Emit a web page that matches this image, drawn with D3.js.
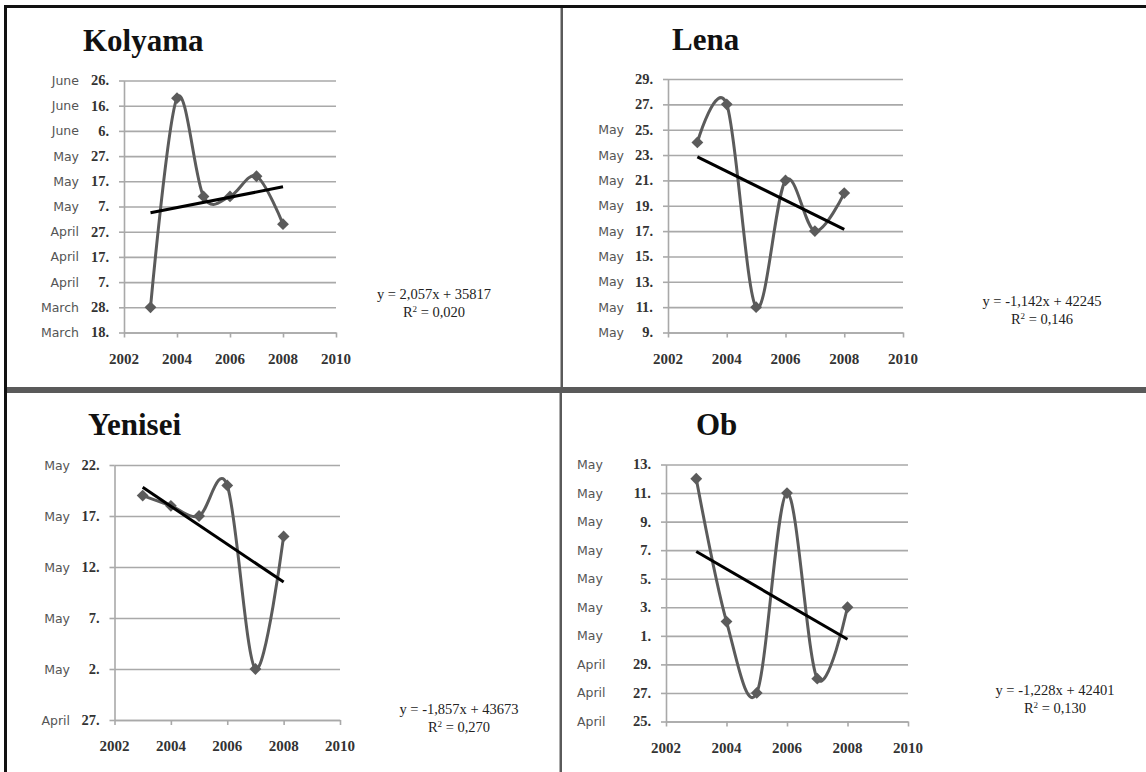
<!DOCTYPE html>
<html>
<head>
<meta charset="utf-8">
<script src="https://cdn.jsdelivr.net/npm/d3@7"></script>
<style>
  body { margin: 0; background: #fff; }
  svg { display: block; }
  .title { font-family: "Liberation Serif", serif; font-weight: bold; font-size: 31px; fill: #111; }
  .month { font-family: "DejaVu Sans", sans-serif; font-size: 12.5px; fill: #555; }
  .day { font-family: "Liberation Serif", serif; font-weight: bold; font-size: 14.5px; fill: #333; }
  .year { font-family: "Liberation Serif", serif; font-weight: bold; font-size: 15px; fill: #333; }
  .eq { font-family: "Liberation Serif", serif; font-size: 14.5px; fill: #222; }
</style>
</head>
<body>
<svg width="1146" height="772"></svg>
<script>
var years = [2003, 2004, 2005, 2006, 2007, 2008];

// break-up dates, month-day (plotted on one common year)
var kolyama = ["03-28", "06-19", "05-11", "05-11", "05-19", "04-30"];
var lena = ["05-24", "05-27", "05-11", "05-21", "05-17", "05-20"];
var yenisei = ["05-19", "05-18", "05-17", "05-20", "05-02", "05-15"];
var ob = ["05-12", "05-02", "04-27", "05-11", "04-28", "05-03"];

var kolyamaTicks = ["03-18", "03-28", "04-07", "04-17", "04-27", "05-07", "05-17", "05-27", "06-06", "06-16", "06-26"];
var kolyamaLabels = ["March 18.", "March 28.", "April 7.", "April 17.", "April 27.", "May 7.", "May 17.", "May 27.", "June 6.", "June 16.", "June 26."];
var lenaTicks = ["05-09", "05-11", "05-13", "05-15", "05-17", "05-19", "05-21", "05-23", "05-25", "05-27", "05-29"];
var lenaLabels = ["May 9.", "May 11.", "May 13.", "May 15.", "May 17.", "May 19.", "May 21.", "May 23.", "May 25.", "27.", "29."];
var yeniseiTicks = ["04-27", "05-02", "05-07", "05-12", "05-17", "05-22"];
var yeniseiLabels = ["April 27.", "May 2.", "May 7.", "May 12.", "May 17.", "May 22."];
var obTicks = ["04-25", "04-27", "04-29", "05-01", "05-03", "05-05", "05-07", "05-09", "05-11", "05-13"];
var obLabels = ["April 25.", "April 27.", "April 29.", "May 1.", "May 3.", "May 5.", "May 7.", "May 9.", "May 11.", "May 13."];

var xTicks = [2002, 2004, 2006, 2008, 2010];
var equations = ["y = 2,057x + 35817", "y = -1,142x + 42245", "y = -1,857x + 43673", "y = -1,228x + 42401"];
var rSquared = ["0,020", "0,146", "0,270", "0,130"];

var parse = d3.timeParse("%Y-%m-%d");
function toDate(s) { return parse("2009-" + s); }

var svg = d3.select("svg");

var panels = [
  { name: "Kolyama", values: kolyama, ticks: kolyamaTicks, labels: kolyamaLabels,
    left: 124, right: 336, top: 80.5, bottom: 332.5, titleX: 83, titleY: 51, eqX: 434, eqY: 299, monthX: 79, monthAnchor: "end" },
  { name: "Lena", values: lena, ticks: lenaTicks, labels: lenaLabels,
    left: 668, right: 903, top: 79, bottom: 332.5, titleX: 672, titleY: 50, eqX: 1042, eqY: 306, monthX: 624, monthAnchor: "end" },
  { name: "Yenisei", values: yenisei, ticks: yeniseiTicks, labels: yeniseiLabels,
    left: 114.5, right: 340, top: 465, bottom: 720, titleX: 88, titleY: 435, eqX: 459, eqY: 714, monthX: 70, monthAnchor: "end" },
  { name: "Ob", values: ob, ticks: obTicks, labels: obLabels,
    left: 666, right: 908, top: 464.5, bottom: 721.5, titleX: 696, titleY: 435, eqX: 1055, eqY: 695, monthX: 577, monthAnchor: "start" }
];

panels.forEach(function (p, i) {
  var x = d3.scaleLinear().domain([2002, 2010]).range([p.left, p.right]);
  var tickDates = p.ticks.map(toDate);
  var y = d3.scaleTime()
    .domain([tickDates[0], tickDates[tickDates.length - 1]])
    .range([p.bottom, p.top]);

  var g = svg.append("g");

  g.append("text").attr("class", "title")
    .attr("x", p.titleX).attr("y", p.titleY).text(p.name);

  // gridlines
  g.append("g")
    .attr("transform", "translate(" + p.left + ",0)")
    .call(d3.axisLeft(y).tickValues(tickDates).tickSize(-(p.right - p.left)).tickFormat(""))
    .call(function (a) {
      a.select(".domain").remove();
      a.selectAll("line").attr("stroke", "#a9a9a9").attr("stroke-width", 1.6);
    });
  // little ticks left of the axis
  g.append("g")
    .attr("transform", "translate(" + p.left + ",0)")
    .call(d3.axisLeft(y).tickValues(tickDates).tickSize(5).tickSizeOuter(0).tickFormat(""))
    .call(function (a) {
      a.selectAll("path, line").attr("stroke", "#a9a9a9").attr("stroke-width", 1.6);
    });

  // y labels: month (sans) + day (serif)
  p.labels.forEach(function (lab, k) {
    var parts = lab.split(" ");
    var day = parts.pop();
    var yy = y(tickDates[k]);
    if (parts.length) {
      g.append("text").attr("class", "month")
        .attr("x", p.monthX).attr("y", yy).attr("dy", "0.36em")
        .attr("text-anchor", p.monthAnchor).text(parts.join(" "));
    }
    g.append("text").attr("class", "day")
      .attr("x", p.left - 15).attr("y", yy).attr("dy", "0.34em")
      .attr("text-anchor", "end").text(day);
  });

  // x axis
  g.append("g")
    .attr("transform", "translate(0," + p.bottom + ")")
    .call(d3.axisBottom(x).tickValues(xTicks).tickSize(5).tickSizeOuter(0).tickFormat(""))
    .call(function (a) {
      a.selectAll("path, line").attr("stroke", "#a9a9a9").attr("stroke-width", 1.6);
    });
  g.selectAll(".year").data(xTicks).enter().append("text")
    .attr("class", "year")
    .attr("x", function (d) { return x(d); })
    .attr("y", p.bottom + 31)
    .attr("text-anchor", "middle")
    .text(function (d) { return d; });

  // series
  var pts = p.values.map(function (v, k) { return [years[k], toDate(v)]; });
  var line = d3.line()
    .x(function (d) { return x(d[0]); })
    .y(function (d) { return y(d[1]); })
    .curve(d3.curveCardinal.tension(0));
  g.append("path").datum(pts)
    .attr("d", line)
    .attr("fill", "none").attr("stroke", "#5b5b5b").attr("stroke-width", 3);

  g.selectAll(".mark").data(pts).enter().append("path")
    .attr("class", "mark")
    .attr("d", d3.symbol().type(d3.symbolSquare).size(70))
    .attr("transform", function (d) { return "translate(" + x(d[0]) + "," + y(d[1]) + ") rotate(45)"; })
    .attr("fill", "#5b5b5b");

  // linear trend (least squares on the plotted points)
  var xs = years, ys = pts.map(function (d) { return +d[1]; });
  var mx = d3.mean(xs), my = d3.mean(ys);
  var num = d3.sum(xs, function (v, k) { return (v - mx) * (ys[k] - my); });
  var den = d3.sum(xs, function (v) { return (v - mx) * (v - mx); });
  var slope = num / den;
  var trend = [years[0], years[years.length - 1]].map(function (v) {
    return [v, new Date(my + slope * (v - mx))];
  });
  g.append("path").datum(trend)
    .attr("d", d3.line().x(function (d) { return x(d[0]); }).y(function (d) { return y(d[1]); }))
    .attr("stroke", "#000").attr("stroke-width", 3).attr("fill", "none");

  // equation
  g.append("text").attr("class", "eq")
    .attr("x", p.eqX).attr("y", p.eqY).attr("text-anchor", "middle").text(equations[i]);
  var r = g.append("text").attr("class", "eq")
    .attr("x", p.eqX).attr("y", p.eqY + 18).attr("text-anchor", "middle");
  r.append("tspan").text("R");
  r.append("tspan").attr("font-size", "9px").attr("dy", "-5").text("2");
  r.append("tspan").attr("dy", "5").text(" = " + rSquared[i]);
});

// frame and dividers
svg.append("rect").attr("x", 5).attr("y", 5).attr("width", 1141).attr("height", 3).attr("fill", "#111");
svg.append("rect").attr("x", 4).attr("y", 5).attr("width", 3).attr("height", 767).attr("fill", "#111");
svg.append("rect").attr("x", 560.5).attr("y", 8).attr("width", 2.5).attr("height", 380).attr("fill", "#5a5a5a");
svg.append("rect").attr("x", 559.5).attr("y", 390).attr("width", 2.5).attr("height", 382).attr("fill", "#5a5a5a");
svg.append("rect").attr("x", 7).attr("y", 387).attr("width", 1139).attr("height", 6).attr("fill", "#5a5a5a");
</script>
</body>
</html>
